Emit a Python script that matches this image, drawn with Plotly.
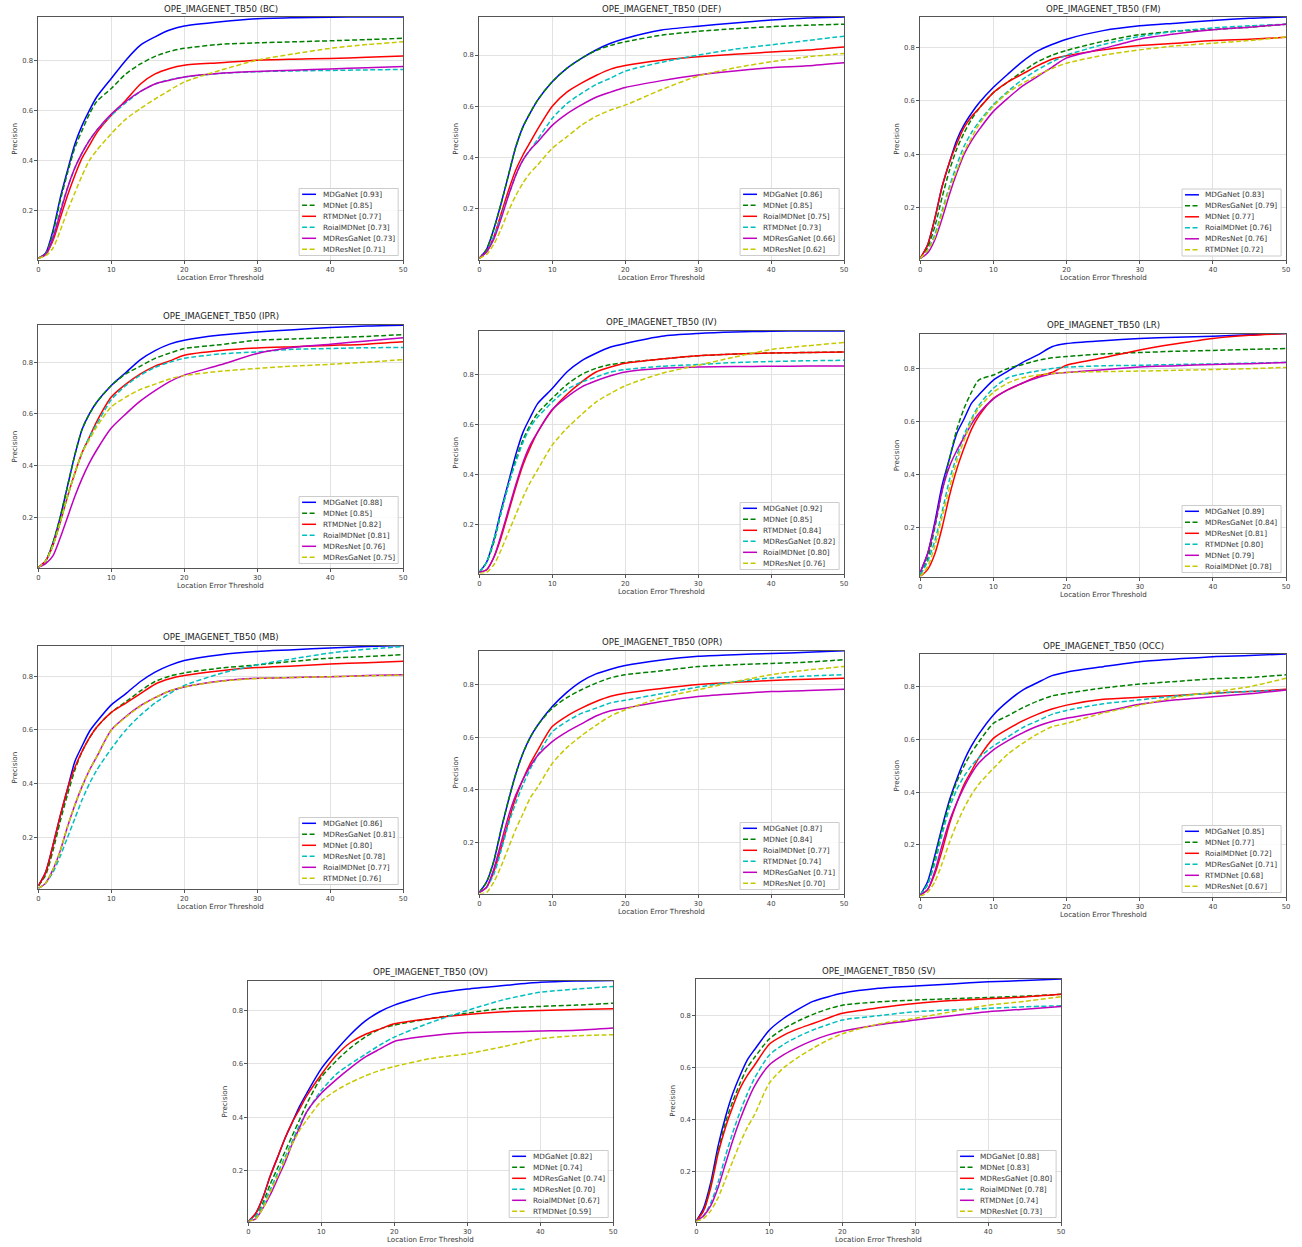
import plotly.graph_objects as go

# ---------------- data ----------------
X = [0, 1, 2, 3, 4, 5, 6, 7, 8, 10, 12, 14, 16, 18, 20, 25, 30, 35, 40, 45, 50]

bc_names = ['MDGaNet', 'MDNet', 'RTMDNet', 'RoialMDNet', 'MDResGaNet', 'MDResNet']
bc_scores = [0.93, 0.85, 0.77, 0.73, 0.73, 0.71]
bc_series = [
    [0.01, 0.03, 0.12, 0.25, 0.36, 0.465, 0.54, 0.6, 0.653, 0.727, 0.8, 0.86, 0.893, 0.92, 0.936, 0.953, 0.965, 0.969, 0.971, 0.972, 0.972],
    [0.01, 0.03, 0.11, 0.24, 0.35, 0.45, 0.52, 0.585, 0.635, 0.687, 0.745, 0.785, 0.815, 0.835, 0.847, 0.863, 0.869, 0.873, 0.877, 0.882, 0.887],
    [0.01, 0.025, 0.08, 0.17, 0.26, 0.34, 0.41, 0.46, 0.51, 0.58, 0.64, 0.705, 0.745, 0.767, 0.78, 0.79, 0.8, 0.804, 0.807, 0.811, 0.816],
    [0.01, 0.025, 0.09, 0.2, 0.29, 0.37, 0.43, 0.48, 0.52, 0.58, 0.63, 0.675, 0.705, 0.722, 0.733, 0.747, 0.754, 0.757, 0.759, 0.761, 0.763],
    [0.01, 0.025, 0.09, 0.19, 0.29, 0.37, 0.43, 0.48, 0.52, 0.585, 0.635, 0.675, 0.705, 0.72, 0.733, 0.748, 0.755, 0.76, 0.765, 0.77, 0.775],
    [0.01, 0.02, 0.05, 0.12, 0.2, 0.27, 0.34, 0.4, 0.44, 0.507, 0.565, 0.607, 0.645, 0.68, 0.713, 0.76, 0.8, 0.825, 0.847, 0.862, 0.873],
]

def_names = ['MDGaNet', 'MDNet', 'RoialMDNet', 'RTMDNet', 'MDResGaNet', 'MDResNet']
def_scores = [0.86, 0.85, 0.75, 0.73, 0.66, 0.62]
def_series = [
    [0.005, 0.04, 0.12, 0.22, 0.33, 0.44, 0.52, 0.575, 0.624, 0.696, 0.748, 0.787, 0.82, 0.846, 0.865, 0.898, 0.913, 0.926, 0.937, 0.945, 0.949],
    [0.005, 0.04, 0.12, 0.22, 0.33, 0.44, 0.52, 0.575, 0.624, 0.696, 0.748, 0.787, 0.818, 0.838, 0.852, 0.878, 0.893, 0.903, 0.911, 0.917, 0.921],
    [0.005, 0.03, 0.09, 0.18, 0.27, 0.35, 0.41, 0.46, 0.51, 0.6, 0.655, 0.69, 0.72, 0.745, 0.759, 0.78, 0.793, 0.803, 0.812, 0.82, 0.832],
    [0.005, 0.03, 0.09, 0.17, 0.25, 0.33, 0.39, 0.43, 0.47, 0.552, 0.61, 0.65, 0.685, 0.71, 0.737, 0.772, 0.8, 0.823, 0.84, 0.857, 0.874],
    [0.005, 0.03, 0.08, 0.16, 0.25, 0.33, 0.39, 0.43, 0.46, 0.525, 0.57, 0.605, 0.635, 0.655, 0.673, 0.7, 0.722, 0.738, 0.75, 0.758, 0.77],
    [0.005, 0.02, 0.06, 0.12, 0.19, 0.25, 0.3, 0.34, 0.37, 0.435, 0.48, 0.525, 0.56, 0.585, 0.604, 0.665, 0.718, 0.75, 0.774, 0.793, 0.806],
]

fm_names = ['MDGaNet', 'MDResGaNet', 'MDNet', 'RoialMDNet', 'MDResNet', 'RTMDNet']
fm_scores = [0.83, 0.79, 0.77, 0.76, 0.76, 0.72]
fm_series = [
    [0.01, 0.06, 0.16, 0.28, 0.37, 0.453, 0.51, 0.553, 0.59, 0.65, 0.7, 0.747, 0.785, 0.81, 0.83, 0.862, 0.88, 0.89, 0.9, 0.908, 0.913],
    [0.01, 0.05, 0.13, 0.24, 0.34, 0.42, 0.48, 0.53, 0.57, 0.63, 0.67, 0.71, 0.745, 0.77, 0.788, 0.822, 0.847, 0.86, 0.866, 0.875, 0.886],
    [0.01, 0.06, 0.16, 0.28, 0.37, 0.44, 0.5, 0.54, 0.57, 0.63, 0.67, 0.7, 0.73, 0.755, 0.768, 0.79, 0.806, 0.815, 0.825, 0.83, 0.837],
    [0.01, 0.04, 0.1, 0.19, 0.28, 0.36, 0.43, 0.48, 0.52, 0.585, 0.635, 0.68, 0.715, 0.745, 0.77, 0.81, 0.84, 0.86, 0.872, 0.88, 0.886],
    [0.01, 0.03, 0.08, 0.16, 0.25, 0.33, 0.4, 0.45, 0.49, 0.56, 0.61, 0.655, 0.69, 0.725, 0.76, 0.795, 0.83, 0.85, 0.865, 0.875, 0.886],
    [0.01, 0.04, 0.09, 0.18, 0.27, 0.34, 0.41, 0.46, 0.51, 0.58, 0.63, 0.665, 0.695, 0.72, 0.74, 0.77, 0.79, 0.805, 0.815, 0.825, 0.838],
]

ipr_names = ['MDGaNet', 'MDNet', 'RTMDNet', 'RoialMDNet', 'MDResNet', 'MDResGaNet']
ipr_scores = [0.88, 0.85, 0.82, 0.81, 0.76, 0.75]
ipr_series = [
    [0.005, 0.03, 0.1, 0.2, 0.32, 0.44, 0.54, 0.6, 0.645, 0.71, 0.76, 0.81, 0.845, 0.87, 0.885, 0.905, 0.917, 0.926, 0.934, 0.94, 0.943],
    [0.005, 0.03, 0.1, 0.2, 0.32, 0.44, 0.54, 0.6, 0.645, 0.71, 0.755, 0.785, 0.815, 0.835, 0.853, 0.868, 0.885, 0.89, 0.895, 0.9, 0.907],
    [0.005, 0.03, 0.09, 0.18, 0.28, 0.37, 0.45, 0.51, 0.57, 0.665, 0.715, 0.755, 0.785, 0.805, 0.827, 0.845, 0.855, 0.86, 0.865, 0.87, 0.879],
    [0.005, 0.03, 0.09, 0.18, 0.28, 0.37, 0.45, 0.51, 0.56, 0.655, 0.71, 0.75, 0.78, 0.8, 0.815, 0.832, 0.84, 0.85, 0.853, 0.856, 0.857],
    [0.005, 0.02, 0.05, 0.12, 0.2, 0.28, 0.35, 0.41, 0.46, 0.545, 0.6, 0.65, 0.69, 0.725, 0.75, 0.79, 0.834, 0.858, 0.87, 0.882, 0.895],
    [0.005, 0.03, 0.09, 0.18, 0.28, 0.37, 0.45, 0.5, 0.55, 0.627, 0.665, 0.695, 0.715, 0.735, 0.748, 0.765, 0.776, 0.785, 0.792, 0.8, 0.81],
]

iv_names = ['MDGaNet', 'MDNet', 'RTMDNet', 'MDResGaNet', 'RoialMDNet', 'MDResNet']
iv_scores = [0.92, 0.85, 0.84, 0.82, 0.80, 0.76]
iv_series = [
    [0.01, 0.05, 0.14, 0.26, 0.37, 0.48, 0.57, 0.63, 0.684, 0.744, 0.81, 0.855, 0.885, 0.91, 0.924, 0.953, 0.964, 0.97, 0.973, 0.974, 0.974],
    [0.01, 0.05, 0.13, 0.25, 0.36, 0.46, 0.54, 0.6, 0.645, 0.705, 0.76, 0.8, 0.825, 0.84, 0.848, 0.862, 0.875, 0.882, 0.886, 0.888, 0.89],
    [0.01, 0.02, 0.07, 0.15, 0.25, 0.35, 0.44, 0.51, 0.57, 0.658, 0.72, 0.77, 0.81, 0.83, 0.845, 0.862, 0.875, 0.882, 0.886, 0.888, 0.89],
    [0.01, 0.05, 0.14, 0.25, 0.36, 0.45, 0.53, 0.59, 0.63, 0.69, 0.74, 0.77, 0.79, 0.81, 0.82, 0.833, 0.84, 0.848, 0.852, 0.855, 0.857],
    [0.01, 0.02, 0.07, 0.16, 0.26, 0.36, 0.45, 0.52, 0.57, 0.66, 0.71, 0.75, 0.775, 0.795, 0.81, 0.825, 0.83, 0.832, 0.833, 0.834, 0.834],
    [0.005, 0.01, 0.04, 0.1, 0.17, 0.24, 0.31, 0.37, 0.42, 0.518, 0.585, 0.64, 0.69, 0.725, 0.755, 0.805, 0.837, 0.87, 0.9, 0.915, 0.928],
]

lr_names = ['MDGaNet', 'MDResGaNet', 'MDResNet', 'RTMDNet', 'MDNet', 'RoialMDNet']
lr_scores = [0.89, 0.84, 0.81, 0.80, 0.79, 0.78]
lr_series = [
    [0.03, 0.1, 0.22, 0.36, 0.46, 0.555, 0.61, 0.668, 0.7, 0.756, 0.79, 0.823, 0.85, 0.882, 0.894, 0.905, 0.913, 0.918, 0.922, 0.927, 0.932],
    [0.02, 0.08, 0.2, 0.34, 0.46, 0.57, 0.65, 0.71, 0.756, 0.775, 0.8, 0.815, 0.83, 0.84, 0.845, 0.855, 0.86, 0.865, 0.868, 0.872, 0.875],
    [0.014, 0.04, 0.1, 0.2, 0.32, 0.42, 0.5, 0.57, 0.62, 0.687, 0.72, 0.745, 0.77, 0.785, 0.812, 0.84, 0.87, 0.893, 0.913, 0.925, 0.932],
    [0.02, 0.07, 0.15, 0.26, 0.38, 0.47, 0.55, 0.61, 0.66, 0.725, 0.765, 0.78, 0.79, 0.8, 0.805, 0.81, 0.812, 0.815, 0.817, 0.82, 0.823],
    [0.03, 0.1, 0.21, 0.34, 0.43, 0.49, 0.54, 0.59, 0.63, 0.685, 0.72, 0.745, 0.765, 0.78, 0.785, 0.795, 0.805, 0.81, 0.815, 0.818, 0.822],
    [0.014, 0.05, 0.13, 0.24, 0.35, 0.45, 0.53, 0.6, 0.65, 0.71, 0.745, 0.765, 0.775, 0.78, 0.785, 0.788, 0.79, 0.793, 0.796, 0.799, 0.804],
]

mb_names = ['MDGaNet', 'MDResGaNet', 'MDNet', 'MDResNet', 'RoialMDNet', 'RTMDNet']
mb_scores = [0.86, 0.81, 0.80, 0.78, 0.77, 0.76]
mb_series = [
    [0.02, 0.07, 0.17, 0.28, 0.38, 0.482, 0.54, 0.594, 0.63, 0.693, 0.735, 0.78, 0.815, 0.84, 0.858, 0.88, 0.892, 0.898, 0.905, 0.91, 0.914],
    [0.02, 0.06, 0.15, 0.26, 0.36, 0.45, 0.52, 0.57, 0.61, 0.665, 0.705, 0.745, 0.78, 0.8, 0.812, 0.83, 0.842, 0.855, 0.867, 0.873, 0.88],
    [0.02, 0.07, 0.17, 0.28, 0.38, 0.46, 0.52, 0.57, 0.61, 0.665, 0.7, 0.735, 0.77, 0.79, 0.802, 0.82, 0.832, 0.838, 0.845, 0.85, 0.855],
    [0.01, 0.03, 0.07, 0.13, 0.2, 0.27, 0.34, 0.4, 0.45, 0.53, 0.6, 0.655, 0.7, 0.735, 0.765, 0.81, 0.842, 0.865, 0.886, 0.9, 0.91],
    [0.01, 0.03, 0.08, 0.15, 0.24, 0.32, 0.39, 0.45, 0.5, 0.6, 0.65, 0.69, 0.72, 0.745, 0.76, 0.782, 0.792, 0.795, 0.798, 0.802, 0.805],
    [0.01, 0.03, 0.08, 0.15, 0.24, 0.32, 0.39, 0.45, 0.5, 0.598, 0.648, 0.688, 0.72, 0.745, 0.76, 0.781, 0.791, 0.795, 0.798, 0.801, 0.804],
]

opr_names = ['MDGaNet', 'MDNet', 'RoialMDNet', 'RTMDNet', 'MDResGaNet', 'MDResNet']
opr_scores = [0.87, 0.84, 0.77, 0.74, 0.71, 0.70]
opr_series = [
    [0.01, 0.05, 0.13, 0.25, 0.36, 0.46, 0.54, 0.6, 0.645, 0.716, 0.77, 0.812, 0.84, 0.858, 0.872, 0.893, 0.907, 0.913, 0.918, 0.922, 0.928],
    [0.01, 0.05, 0.13, 0.25, 0.36, 0.46, 0.54, 0.6, 0.645, 0.71, 0.75, 0.78, 0.805, 0.825, 0.837, 0.852, 0.868, 0.875, 0.88, 0.885, 0.894],
    [0.01, 0.03, 0.09, 0.18, 0.28, 0.37, 0.44, 0.5, 0.55, 0.64, 0.68, 0.71, 0.735, 0.755, 0.767, 0.785, 0.8, 0.808, 0.815, 0.82, 0.824],
    [0.01, 0.03, 0.08, 0.17, 0.27, 0.35, 0.42, 0.48, 0.53, 0.62, 0.66, 0.69, 0.71, 0.73, 0.74, 0.765, 0.79, 0.81, 0.825, 0.832, 0.837],
    [0.01, 0.03, 0.1, 0.2, 0.3, 0.38, 0.44, 0.49, 0.53, 0.583, 0.62, 0.65, 0.68, 0.7, 0.71, 0.735, 0.754, 0.765, 0.773, 0.777, 0.782],
    [0.006, 0.01, 0.05, 0.11, 0.18, 0.25, 0.31, 0.37, 0.41, 0.5, 0.56, 0.605, 0.645, 0.68, 0.704, 0.75, 0.78, 0.81, 0.837, 0.855, 0.868],
]

occ_names = ['MDGaNet', 'MDNet', 'RoialMDNet', 'MDResGaNet', 'RTMDNet', 'MDResNet']
occ_scores = [0.85, 0.77, 0.72, 0.71, 0.68, 0.67]
occ_series = [
    [0.01, 0.06, 0.16, 0.27, 0.37, 0.45, 0.52, 0.575, 0.62, 0.693, 0.745, 0.787, 0.815, 0.842, 0.855, 0.876, 0.895, 0.905, 0.914, 0.918, 0.924],
    [0.01, 0.05, 0.15, 0.26, 0.36, 0.44, 0.5, 0.55, 0.59, 0.661, 0.69, 0.72, 0.745, 0.765, 0.775, 0.795, 0.81, 0.82, 0.83, 0.835, 0.845],
    [0.01, 0.03, 0.09, 0.18, 0.28, 0.36, 0.43, 0.48, 0.53, 0.604, 0.64, 0.67, 0.695, 0.715, 0.73, 0.752, 0.76, 0.767, 0.775, 0.782, 0.79],
    [0.01, 0.05, 0.13, 0.24, 0.34, 0.41, 0.46, 0.5, 0.53, 0.575, 0.61, 0.645, 0.67, 0.695, 0.71, 0.735, 0.75, 0.765, 0.775, 0.782, 0.787],
    [0.01, 0.03, 0.1, 0.2, 0.29, 0.36, 0.42, 0.47, 0.51, 0.56, 0.595, 0.625, 0.65, 0.668, 0.68, 0.705, 0.733, 0.75, 0.762, 0.773, 0.787],
    [0.005, 0.02, 0.06, 0.13, 0.21, 0.28, 0.34, 0.39, 0.43, 0.49, 0.545, 0.585, 0.62, 0.648, 0.661, 0.7, 0.73, 0.76, 0.78, 0.8, 0.832],
]

ov_names = ['MDGaNet', 'MDNet', 'MDResGaNet', 'MDResNet', 'RoialMDNet', 'RTMDNet']
ov_scores = [0.82, 0.74, 0.74, 0.70, 0.67, 0.59]
ov_series = [
    [0.01, 0.04, 0.1, 0.18, 0.25, 0.32, 0.38, 0.44, 0.49, 0.582, 0.65, 0.71, 0.76, 0.795, 0.82, 0.86, 0.88, 0.893, 0.905, 0.91, 0.912],
    [0.01, 0.03, 0.08, 0.15, 0.21, 0.27, 0.33, 0.39, 0.45, 0.55, 0.61, 0.66, 0.7, 0.73, 0.745, 0.77, 0.79, 0.808, 0.815, 0.82, 0.827],
    [0.01, 0.04, 0.1, 0.18, 0.25, 0.32, 0.38, 0.43, 0.48, 0.56, 0.63, 0.68, 0.71, 0.73, 0.75, 0.77, 0.785, 0.795, 0.8, 0.803, 0.806],
    [0.01, 0.03, 0.07, 0.13, 0.19, 0.25, 0.31, 0.37, 0.42, 0.5, 0.56, 0.6, 0.635, 0.67, 0.7, 0.755, 0.8, 0.84, 0.868, 0.88, 0.89],
    [0.01, 0.02, 0.06, 0.11, 0.17, 0.23, 0.3, 0.36, 0.42, 0.49, 0.54, 0.585, 0.625, 0.655, 0.684, 0.705, 0.717, 0.72, 0.723, 0.726, 0.734],
    [0.01, 0.02, 0.06, 0.12, 0.18, 0.24, 0.3, 0.35, 0.39, 0.46, 0.5, 0.53, 0.555, 0.575, 0.59, 0.62, 0.638, 0.665, 0.694, 0.705, 0.709],
]

sv_names = ['MDGaNet', 'MDNet', 'MDResGaNet', 'RoialMDNet', 'RTMDNet', 'MDResNet']
sv_scores = [0.88, 0.83, 0.80, 0.78, 0.74, 0.73]
sv_series = [
    [0.01, 0.06, 0.16, 0.3, 0.41, 0.5, 0.57, 0.63, 0.67, 0.744, 0.79, 0.825, 0.855, 0.872, 0.886, 0.905, 0.914, 0.922, 0.93, 0.935, 0.941],
    [0.01, 0.05, 0.15, 0.28, 0.39, 0.47, 0.54, 0.6, 0.64, 0.71, 0.75, 0.78, 0.805, 0.825, 0.84, 0.853, 0.86, 0.865, 0.87, 0.875, 0.882],
    [0.01, 0.05, 0.14, 0.27, 0.37, 0.45, 0.52, 0.57, 0.61, 0.69, 0.725, 0.75, 0.77, 0.79, 0.809, 0.83, 0.847, 0.858, 0.865, 0.872, 0.882],
    [0.01, 0.03, 0.08, 0.16, 0.26, 0.35, 0.43, 0.5, 0.56, 0.648, 0.69, 0.72, 0.745, 0.765, 0.783, 0.8, 0.815, 0.822, 0.828, 0.834, 0.838],
    [0.01, 0.03, 0.07, 0.14, 0.23, 0.32, 0.4, 0.47, 0.53, 0.61, 0.65, 0.68, 0.705, 0.725, 0.74, 0.765, 0.783, 0.8, 0.815, 0.825, 0.835],
    [0.008, 0.02, 0.05, 0.1, 0.17, 0.24, 0.31, 0.37, 0.42, 0.54, 0.6, 0.64, 0.675, 0.705, 0.73, 0.768, 0.79, 0.815, 0.84, 0.855, 0.873],
]

PANEL_TAGS = ['BC', 'DEF', 'FM', 'IPR', 'IV', 'LR', 'MB', 'OPR', 'OCC', 'OV', 'SV']
PANEL_DATA = [
    (bc_names, bc_scores, bc_series), (def_names, def_scores, def_series),
    (fm_names, fm_scores, fm_series), (ipr_names, ipr_scores, ipr_series),
    (iv_names, iv_scores, iv_series), (lr_names, lr_scores, lr_series),
    (mb_names, mb_scores, mb_series), (opr_names, opr_scores, opr_series),
    (occ_names, occ_scores, occ_series), (ov_names, ov_scores, ov_series),
    (sv_names, sv_scores, sv_series),
]
Y_RANGES = [(0.005, 0.972), (0.0, 0.949), (0.004, 0.913), (0.005, 0.946), (0.005, 0.974),
            (0.014, 0.932), (0.01, 0.914), (0.006, 0.929), (0.004, 0.924), (0.01, 0.912),
            (0.008, 0.941)]

# ---------------- layout / style ----------------
W, H = 1302, 1247
# plot-area boxes in pixels: left, right, top, bottom
BOXES = [
    (36.5, 403, 17, 259.5), (479.5, 846, 17, 259.5), (922.5, 1290, 17, 260),
    (36.5, 403, 324.5, 567.5), (479.5, 846, 331, 573.5), (922.5, 1290, 333.5, 576.5),
    (36.5, 403, 645.5, 888.5), (479.5, 846, 650.5, 893.5), (922.5, 1290, 654, 896.5),
    (247.5, 614, 980.5, 1221.5), (697.5, 1064, 979, 1221.5),
]
COLORS = ['#0000ff', '#008000', '#ff0000', '#00bfbf', '#bf00bf', '#c8c800']
DASHES = ['solid', '5px,2.5px', 'solid', '5px,2.5px', 'solid', '5px,2.5px']
FONT = 'DejaVu Sans'
LEG_FS = 7.3
CHAR_W = {'M': .863, 'D': .770, 'G': .776, 'a': .613, 'N': .748, 'e': .615, 't': .392,
          'R': .695, 's': .521, 'T': .611, 'i': .278, 'o': .612, 'l': .278, ' ': .318,
          '[': .390, ']': .390, '.': .318}


def px(x):
    return x / W


def py(y):
    return 1 - y / H


def text_w(s, fs):
    return sum(CHAR_W.get(c, 0.636) for c in s) * fs


fig = go.Figure()
layout = dict(width=W, height=H, margin=dict(l=0, r=0, t=0, b=0),
              paper_bgcolor='white', plot_bgcolor='white', showlegend=False,
              font=dict(family=FONT, color='#333333'))
shapes = []
annotations = []

for i, tag in enumerate(PANEL_TAGS):
    names, scores, series = PANEL_DATA[i]
    l, r, t, b = BOXES[i]
    k = '' if i == 0 else str(i + 1)
    xa, ya = 'x' + k, 'y' + k
    for j, (nm, sc, ys) in enumerate(zip(names, scores, series)):
        fig.add_trace(go.Scatter(
            x=X, y=ys, mode='lines', xaxis=xa, yaxis=ya,
            name=f'{nm} [{sc:.2f}]', showlegend=False, hoverinfo='name+x+y',
            line=dict(color=COLORS[j], width=1.5, dash=DASHES[j],
                      shape='spline', smoothing=0.7)))
    axis_common = dict(showline=True, mirror=True, linecolor='#555555', linewidth=1,
                       ticks='outside', ticklen=3, tickwidth=1, tickcolor='#555555',
                       showgrid=True, gridcolor='#e2e2e2', gridwidth=1, zeroline=False,
                       tickfont=dict(family=FONT, size=6.8, color='#444444'))
    layout['xaxis' + k] = dict(domain=[px(l), px(r)], anchor=ya, range=[0, 50],
                               tickvals=[0, 10, 20, 30, 40, 50], **axis_common)
    layout['yaxis' + k] = dict(domain=[py(b), py(t)], anchor=xa, range=list(Y_RANGES[i]),
                               tickvals=[0.2, 0.4, 0.6, 0.8], **axis_common)

    # title and axis labels
    annotations.append(dict(text=f'OPE_IMAGENET_TB50 ({tag})', xref='paper', yref='paper',
                            x=px((l + r) / 2), y=py(t - 1.5), xanchor='center', yanchor='bottom',
                            showarrow=False, font=dict(family=FONT, size=8.6, color='#222222')))
    annotations.append(dict(text='Location Error Threshold', xref='paper', yref='paper',
                            x=px((l + r) / 2), y=py(b + 17.5), xanchor='center', yanchor='middle',
                            showarrow=False, font=dict(family=FONT, size=7.1, color='#333333')))
    annotations.append(dict(text='Precision', xref='paper', yref='paper', textangle=-90,
                            x=px(l - 24), y=py((t + b) / 2), xanchor='center', yanchor='middle',
                            showarrow=False, font=dict(family=FONT, size=7.1, color='#333333')))

    # legend box (bottom right, matplotlib style)
    labels = [f'{nm} [{sc:.2f}]' for nm, sc in zip(names, scores)]
    bw = 22 + max(text_w(s, LEG_FS) for s in labels) + 5
    bh = 67
    br, bb = r - 5, b - 4
    bl, bt = br - bw, bb - bh
    shapes.append(dict(type='rect', xref='paper', yref='paper', x0=px(bl), x1=px(br),
                       y0=py(bb), y1=py(bt), line=dict(color='#cccccc', width=1),
                       fillcolor='rgba(255,255,255,0.85)', layer='above'))
    for j, lab in enumerate(labels):
        yc = bt + 5.8 + j * 11
        shapes.append(dict(type='line', xref='paper', yref='paper', x0=px(bl + 3), x1=px(bl + 17),
                           y0=py(yc), y1=py(yc), layer='above',
                           line=dict(color=COLORS[j], width=1.5, dash=DASHES[j])))
        annotations.append(dict(text=lab, xref='paper', yref='paper', x=px(bl + 21.5), y=py(yc),
                                xanchor='left', yanchor='middle', showarrow=False,
                                font=dict(family=FONT, size=LEG_FS, color='#333333')))

layout['shapes'] = shapes
layout['annotations'] = annotations
fig.update_layout(**layout)
fig.write_html('out.html')
